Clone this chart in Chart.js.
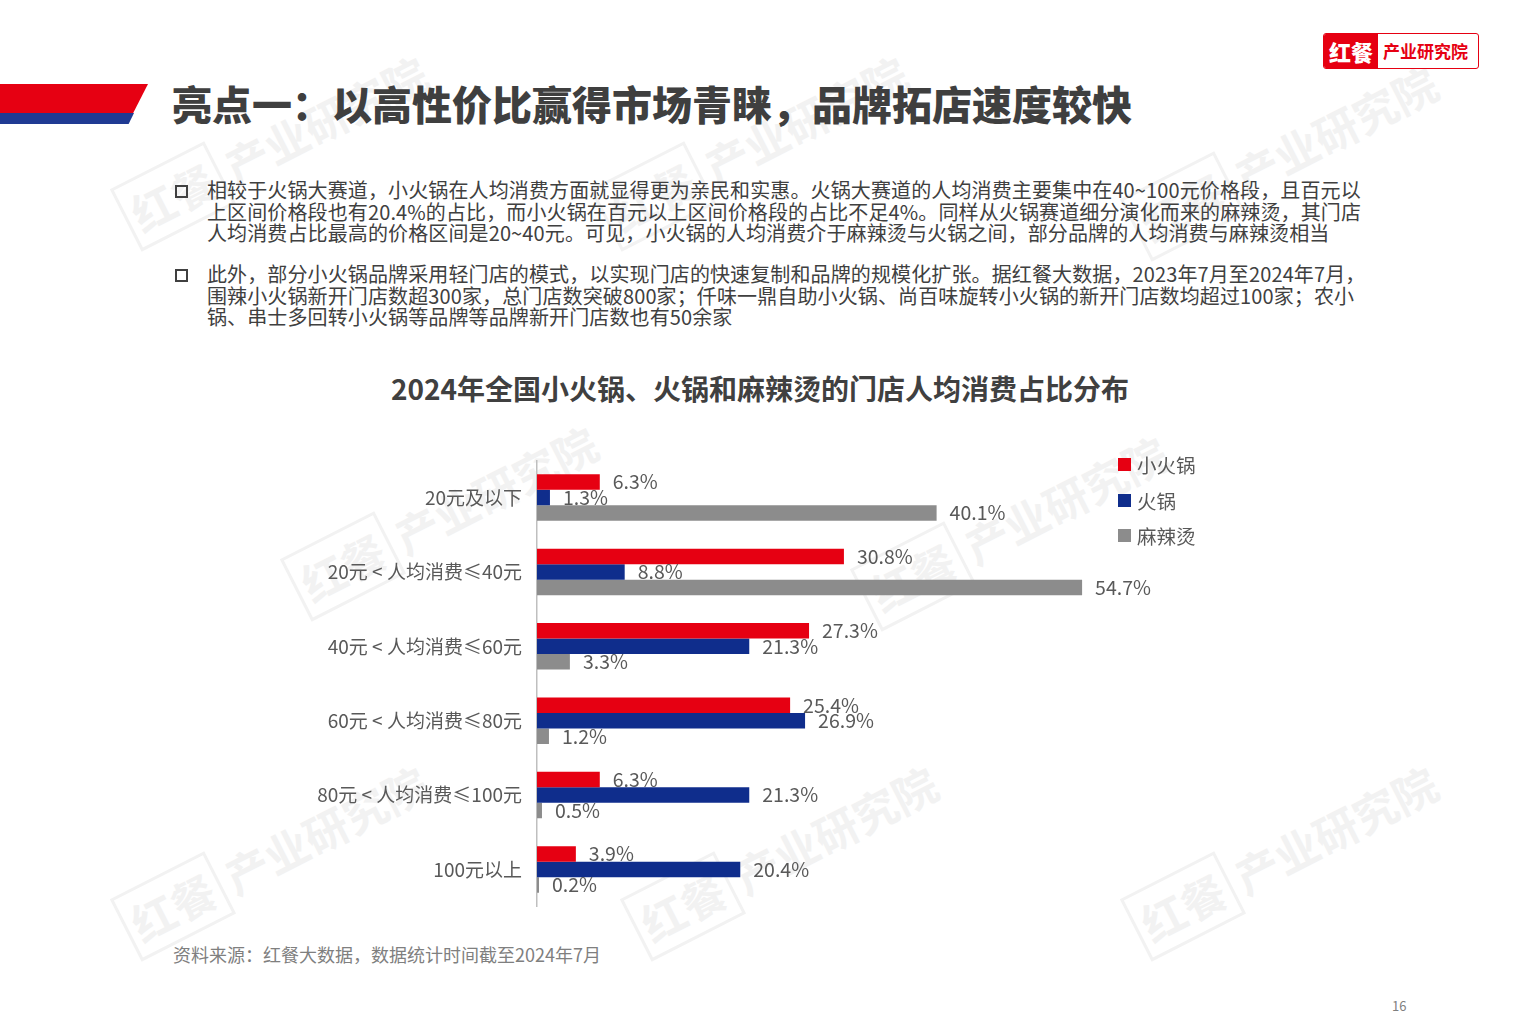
<!DOCTYPE html>
<html>
<head>
<meta charset="utf-8">
<script src="https://cdn.jsdelivr.net/npm/chart.js@4.4.1/dist/chart.umd.min.js"></script>
<style>
  body { margin: 0; background: #fff; font-family: "Noto Sans CJK SC", "Noto Sans", sans-serif; }
  #page { position: relative; width: 1530px; height: 1020px; overflow: hidden; background: #fff; }
  .wm { position: absolute; width: 330px; height: 80px; transform: rotate(-27deg); color: #f2f2f2; font-weight: 700; font-size: 44px; white-space: nowrap; z-index: 0; }
  .wm span.box { display: inline-block; border: 3px solid #f2f2f2; padding: 0 6px; margin-right: 8px; }
  #redbar { position: absolute; left: 0; top: 84px; width: 148px; height: 29px; background: #e60012; clip-path: polygon(0 0, 100% 0, 90% 100%, 0 100%); }
  #bluebar { position: absolute; left: 0; top: 113px; width: 134px; height: 11px; background: #1f3a93; clip-path: polygon(0 0, 100% 0, 96% 100%, 0 100%); }
  #title { position: absolute; left: 172px; top: 74px; font-size: 40px; font-weight: 900; color: #3f3f3f; white-space: nowrap; }
  #logo { position: absolute; left: 1323px; top: 33px; height: 34px; width: 154px; border: 1.5px solid #e60012; border-radius: 3px; display: flex; overflow: hidden; }
  #logo .l { background: #e60012; color: #fff; font-weight: 900; font-size: 22px; width: 54px; text-align: center; line-height: 34px; }
  #logo .r { color: #e60012; font-weight: 700; font-size: 17px; line-height: 34px; padding-left: 5px; }
  .para { position: absolute; left: 207px; font-size: 20px; letter-spacing: 0.12px; line-height: 21.5px; color: #404040; white-space: nowrap; }
  .bullet { position: absolute; left: 175px; width: 9px; height: 9px; border: 2.5px solid #404040; }
  #ctitle { position: absolute; left: 0; width: 1520px; top: 368px; text-align: center; font-size: 28px; font-weight: 700; color: #404040; }
  #chartwrap { position: absolute; left: 290px; top: 434px; z-index: 2; }
  #chartwrap canvas { display: block; }
  #legend { position: absolute; left: 1118px; top: 450px; z-index: 3; }
  #legend .item { height: 35.5px; display: flex; align-items: flex-start; font-size: 19.5px; color: #595959; }
  #legend .sw { width: 13px; height: 13px; margin-top: 8px; margin-right: 6px; }
  #source { position: absolute; left: 173px; top: 941px; font-size: 18px; color: #7f7f7f; }
  #pageno { position: absolute; left: 1392px; top: 996px; font-size: 13px; color: #7f7f7f; }
</style>
</head>
<body>
<div id="page">
  <div class="wm" style="left:110px;top:110px;"><span class="box">红餐</span>产业研究院</div>
  <div class="wm" style="left:590px;top:110px;"><span class="box">红餐</span>产业研究院</div>
  <div class="wm" style="left:1120px;top:120px;"><span class="box">红餐</span>产业研究院</div>
  <div class="wm" style="left:280px;top:480px;"><span class="box">红餐</span>产业研究院</div>
  <div class="wm" style="left:850px;top:490px;"><span class="box">红餐</span>产业研究院</div>
  <div class="wm" style="left:110px;top:820px;"><span class="box">红餐</span>产业研究院</div>
  <div class="wm" style="left:620px;top:820px;"><span class="box">红餐</span>产业研究院</div>
  <div class="wm" style="left:1120px;top:820px;"><span class="box">红餐</span>产业研究院</div>

  <div id="redbar"></div>
  <div id="bluebar"></div>
  <div id="title">亮点一：以高性价比赢得市场青睐，品牌拓店速度较快</div>
  <div id="logo"><div class="l">红餐</div><div class="r">产业研究院</div></div>

  <div class="bullet" style="top:185px;"></div>
  <div class="para" style="top:179px;">相较于火锅大赛道，小火锅在人均消费方面就显得更为亲民和实惠。火锅大赛道的人均消费主要集中在40~100元价格段，且百元以<br>上区间价格段也有20.4%的占比，而小火锅在百元以上区间价格段的占比不足4%。同样从火锅赛道细分演化而来的麻辣烫，其门店<br>人均消费占比最高的价格区间是20~40元。可见，小火锅的人均消费介于麻辣烫与火锅之间，部分品牌的人均消费与麻辣烫相当</div>
  <div class="bullet" style="top:269px;"></div>
  <div class="para" style="top:263px;">此外，部分小火锅品牌采用轻门店的模式，以实现门店的快速复制和品牌的规模化扩张。据红餐大数据，2023年7月至2024年7月，<br>围辣小火锅新开门店数超300家，总门店数突破800家；仟味一鼎自助小火锅、尚百味旋转小火锅的新开门店数均超过100家；农小<br>锅、串士多回转小火锅等品牌等品牌新开门店数也有50余家</div>

  <div id="ctitle">2024年全国小火锅、火锅和麻辣烫的门店人均消费占比分布</div>
  <div id="chartwrap"><canvas id="bar-chart" width="900" height="499"></canvas></div>
  <div id="legend"></div>

  <div id="source">资料来源：红餐大数据，数据统计时间截至2024年7月</div>
  <div id="pageno">16</div>
</div>
<script>
var categories = ["20元及以下", "20元 < 人均消费≤40元", "40元 < 人均消费≤60元", "60元 < 人均消费≤80元", "80元 < 人均消费≤100元", "100元以上"];
var seriesNames = ["小火锅", "火锅", "麻辣烫"];
var seriesColors = ["#e60012", "#0f2d8c", "#8c8c8c"];
var xiaoHuoguo = [6.3, 30.8, 27.3, 25.4, 6.3, 3.9];
var huoguo = [1.3, 8.8, 21.3, 26.9, 21.3, 20.4];
var malatang = [40.1, 54.7, 3.3, 1.2, 0.5, 0.2];

var seriesValues = [xiaoHuoguo, huoguo, malatang];

// legend built from the series arrays
var legendBox = document.getElementById("legend");
seriesNames.forEach(function (name, i) {
  var item = document.createElement("div");
  item.className = "item";
  item.innerHTML = '<div class="sw" style="background:' + seriesColors[i] + '"></div>' + name;
  legendBox.appendChild(item);
});

var valueLabels = {
  id: "valueLabels",
  afterDatasetsDraw: function (chart) {
    var ctx = chart.ctx;
    ctx.save();
    ctx.font = '19.5px "Noto Sans CJK SC", "Noto Sans", sans-serif';
    ctx.fillStyle = "#595959";
    ctx.textBaseline = "middle";
    ctx.textAlign = "left";
    chart.data.datasets.forEach(function (ds, i) {
      chart.getDatasetMeta(i).data.forEach(function (bar, j) {
        ctx.fillText(ds.data[j].toFixed(1) + "%", bar.x + 13, bar.y);
      });
    });
    ctx.restore();
  }
};

var chartData = {
  labels: categories,
  datasets: seriesNames.map(function (name, i) {
    return {
      label: name,
      data: seriesValues[i],
      backgroundColor: seriesColors[i],
      barPercentage: 1,
      categoryPercentage: 0.625
    };
  })
};

var chartOptions = {
  indexAxis: "y",
  responsive: false,
  animation: false,
  layout: { padding: { top: 6, bottom: 11, right: 80, left: 0 } },
  plugins: {
    legend: { display: false },
    tooltip: { enabled: false }
  },
  scales: {
    x: { display: false, min: 0, max: 57.5 },
    y: {
      afterFit: function (scale) { scale.width = 247; },
      grid: { display: false, drawTicks: false },
      border: { display: true, color: "#bfbfbf", width: 1.5 },
      ticks: {
        padding: 15,
        color: "#595959",
        font: { size: 19, family: '"Noto Sans CJK SC", "Noto Sans", sans-serif' }
      }
    }
  }
};

new Chart(document.getElementById("bar-chart"), {
  type: "bar",
  data: chartData,
  options: chartOptions,
  plugins: [valueLabels]
});
</script>
</body>
</html>
